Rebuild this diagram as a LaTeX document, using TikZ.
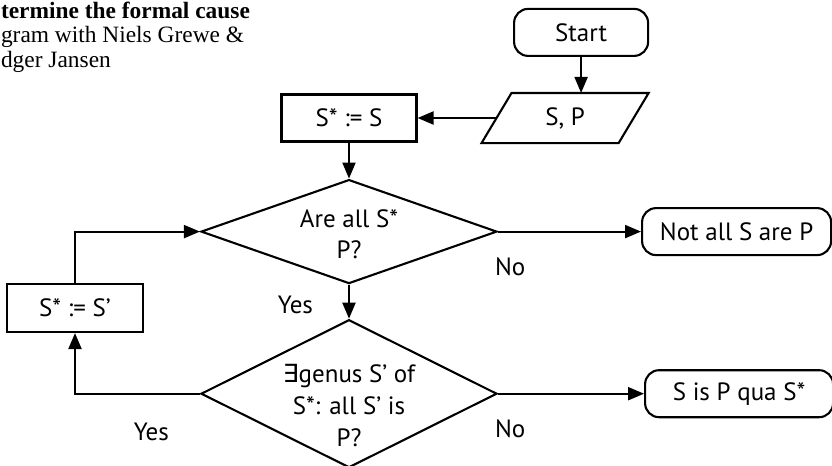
\documentclass[tikz,border=0pt]{standalone}
\usepackage{fontspec}
\setmainfont{PT Sans}
\newfontfamily\titlefont{Liberation Serif}
\newfontfamily\symfont{DejaVu Sans}
\usetikzlibrary{positioning,shapes.geometric,arrows.meta}
\newcommand{\nodefont}{\fontsize{12.5}{15.5}\selectfont}

\begin{document}
\begin{tikzpicture}[
	>={Triangle[length=8pt,width=6.5pt]},
	line width=1.05pt,
	tstyle/.style={draw, rounded corners=7pt, minimum height=23.5pt,
	font=\nodefont},
	bstyle/.style={draw, minimum width=67.5pt, minimum height=23.5pt,
	font=\nodefont},
	dstyle/.style={diamond, draw, inner sep=0pt, minimum width=148pt},
	lstyle/.style={font=\nodefont, inner sep=0pt}
	]
	\useasboundingbox (0,0) rectangle (416pt,-233pt);

	% title, cut off at the left
	\node[anchor=north west, inner sep=0pt, align=left,
	font=\titlefont\fontsize{11.7}{12.25}\selectfont] (title) at (0,-0.3pt)
	{\textbf{termine the formal cause}\\gram with Niels Grewe \&\\dger Jansen};

	\node[bstyle] (sstar) at (174.5pt,-59pt) {S* := S};
	\node[minimum width=67.5pt, minimum height=24pt, font=\nodefont]
	(sp) [right=39.5pt of sstar] {S, P};
	\draw ([xshift=7.5pt]sp.north west) -- ([xshift=7.5pt]sp.north east)
	-- ([xshift=-7.5pt]sp.south east) -- ([xshift=-7.5pt]sp.south west) -- cycle;
	\node[tstyle, minimum width=67pt] (start) [above=18pt of sp, xshift=8pt] {Start};

	\node[dstyle, minimum height=52pt] (q1) [below=18pt of sstar] {};
	\node[dstyle, minimum height=74pt] (q2) [below=17pt of q1] {};
	\node[lstyle, align=center, yshift=-1.5pt] (q1text) at (q1.center)
	{Are all S*\\P?};
	\node[lstyle, align=center, font=\fontsize{12.5}{16}\selectfont] (q2text)
	at ([yshift=-6pt]q2.center) {{\symfont ∃}genus S’ of\\S*: all S’ is\\P?};

	\node[tstyle, minimum width=94.5pt] (notall) [right=71.5pt of q1] {Not all S are P};
	\node[tstyle, minimum width=94pt] (qua) [right=73pt of q2] {S is P qua S*};
	\node[bstyle, minimum width=68pt, minimum height=24pt] (reset) at (37.5pt,-154pt) {S* := S’};

	\node[lstyle, below right=12.5pt and -2pt of q1.east] (no1) {No};
	\node[lstyle, below right=12.5pt and -2pt of q2.east] (no2) {No};
	\node[lstyle, left=17.5pt of q1.south, yshift=-10pt] (yes1) {Yes};
	\node[lstyle, below left=14pt and 0pt of q2.west, xshift=-15pt] (yes2) {Yes};

	\draw[->] (start.south) -- (start.south |- sp.north);
	\draw[->] (sp.west) -- (sstar.east);
	\draw[->] (sstar.south) -- (q1.north);
	\draw[->] (q1.east) -- (notall.west);
	\draw[->] (q1.south) -- (q2.north);
	\draw[->] (q2.east) -- (qua.west);
	\draw[->] (q2.west) -| (reset.south);
	\draw[->] (reset.north) |- (q1.west);
\end{tikzpicture}
\end{document}
